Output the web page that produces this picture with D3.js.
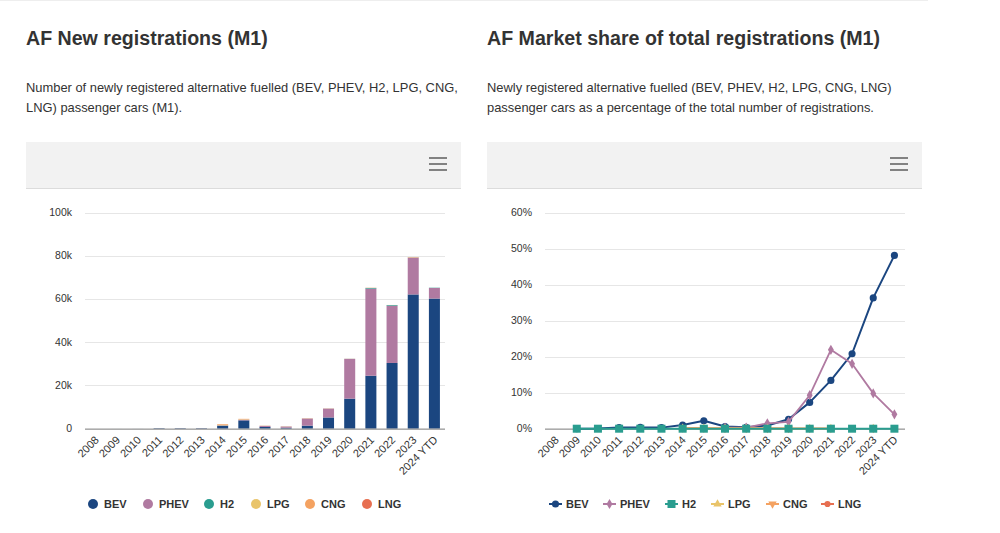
<!DOCTYPE html>
<html>
<head>
<meta charset="utf-8">
<script src="https://cdn.jsdelivr.net/npm/d3@7"></script>
<style>
  html, body { margin: 0; padding: 0; background: #fff; }
  body { width: 1000px; height: 533px; overflow: hidden; font-family: "Liberation Sans", Arial, Helvetica, sans-serif; }
  svg text { font-family: "Liberation Sans", Arial, Helvetica, sans-serif; }
</style>
</head>
<body>
<svg id="chart" width="1000" height="533"></svg>
<script>
// ---- data ----
const categories = ["2008","2009","2010","2011","2012","2013","2014","2015","2016","2017","2018","2019","2020","2021","2022","2023","2024 YTD"];
const seriesNames = ["BEV","PHEV","H2","LPG","CNG","LNG"];
const seriesColors = ["#1b4680","#b07aa1","#2a9d8f","#e9c46a","#f4a261","#e76f51"];

// New registrations (count)
const regBEV  = [0, 10, 20, 250, 250, 250, 1400, 3850, 800, 450, 1400, 5200, 13900, 24500, 30400, 62100, 60200];
const regPHEV = [0, 0, 0, 20, 30, 40, 100, 300, 500, 550, 3300, 4100, 18400, 40300, 26500, 17000, 4900];
const regH2   = [0, 0, 0, 0, 0, 0, 0, 10, 10, 10, 10, 20, 30, 300, 300, 50, 120];
const regLPG  = [0, 0, 0, 0, 0, 0, 150, 150, 60, 40, 30, 20, 10, 10, 10, 10, 0];
const regCNG  = [0, 0, 0, 0, 0, 0, 400, 250, 50, 60, 90, 60, 40, 100, 20, 200, 0];
const regLNG  = [0, 0, 0, 0, 0, 0, 0, 0, 0, 0, 0, 0, 0, 0, 0, 0, 0];

// Market share (%)
const shareBEV  = [null, 0.0, 0.05, 0.3, 0.35, 0.3, 1.0, 2.2, 0.6, 0.4, 0.9, 2.6, 7.3, 13.4, 20.8, 36.3, 48.1];
const sharePHEV = [null, null, null, null, null, null, null, null, 0.3, 0.3, 1.5, 1.9, 9.3, 21.9, 18.0, 9.8, 4.0];
const shareH2   = [null, 0, 0, 0, 0, 0, 0, 0, 0, 0, 0, 0, 0, 0, 0, 0, 0];
const shareLPG  = [null, null, null, null, null, null, 0.1, 0.1, 0.05, 0.05, 0.05, 0.02, 0.02, 0.02, null, 0.02, null];
const shareCNG  = [null, null, null, null, null, null, 0.2, 0.15, 0.1, 0.1, 0.1, 0.05, 0.05, 0.05, null, 0.05, null];
const shareLNG  = [null, null, null, null, null, null, null, null, null, null, null, null, null, null, null, null, null];

const regTicks = [0, 20000, 40000, 60000, 80000, 100000];
const shareTicks = [0, 10, 20, 30, 40, 50, 60];

// ---- layout ----
const svg = d3.select("#chart");
const textCol = "#333333";

function header(x0, w, title, lines) {
  svg.append("text").attr("x", x0).attr("y", 45).attr("font-size", 19.6).attr("font-weight", "bold")
    .attr("fill", "#333").text(title);
  lines.forEach((l, i) => {
    svg.append("text").attr("x", x0).attr("y", 91.5 + i * 20).attr("font-size", 12.9).attr("fill", "#333").text(l);
  });
  svg.append("rect").attr("x", x0).attr("y", 142).attr("width", w).attr("height", 46).attr("fill", "#f2f2f2");
  svg.append("line").attr("x1", x0).attr("x2", x0 + w).attr("y1", 188.5).attr("y2", 188.5).attr("stroke", "#dcdcdc");
  [158, 164, 170].forEach(y => {
    svg.append("line").attr("x1", x0 + w - 32).attr("x2", x0 + w - 14).attr("y1", y).attr("y2", y)
      .attr("stroke", "#666").attr("stroke-width", 1.6);
  });
  svg.append("line").attr("x1", x0 - 26).attr("x2", x0 + w + 6).attr("y1", 0.5).attr("y2", 0.5).attr("stroke", "#eee");
}

header(26, 435, "AF New registrations (M1)",
  ["Number of newly registered alternative fuelled (BEV, PHEV, H2, LPG, CNG,", "LNG) passenger cars (M1)."]);
header(487, 435, "AF Market share of total registrations (M1)",
  ["Newly registered alternative fuelled (BEV, PHEV, H2, LPG, CNG, LNG)", "passenger cars as a percentage of the total number of registrations."]);

const plotTop = 212.5, plotBottom = 428.7;

// ---- left: stacked bars ----
{
  const x = d3.scaleBand().domain(categories).range([85, 445]).paddingInner(0.48).paddingOuter(0.24);
  const y = d3.scaleLinear().domain([0, 100000]).range([plotBottom, plotTop]);
  const g = svg.append("g");
  g.selectAll("line.grid").data(regTicks).join("line")
    .attr("x1", 85).attr("x2", 445).attr("y1", d => Math.round(y(d)) + 0.5).attr("y2", d => Math.round(y(d)) + 0.5)
    .attr("stroke", "#e6e6e6");
  g.selectAll("text.yl").data(regTicks).join("text")
    .attr("x", 72).attr("y", d => y(d) + 3.5).attr("text-anchor", "end").attr("font-size", 10.5).attr("fill", textCol)
    .text(d => d === 0 ? "0" : (d / 1000) + "k");
  const rows = categories.map((c, i) => ({ cat: c, BEV: regBEV[i], PHEV: regPHEV[i], H2: regH2[i], LPG: regLPG[i], CNG: regCNG[i], LNG: regLNG[i] }));
  const stacked = d3.stack().keys(seriesNames)(rows);
  stacked.forEach((s, si) => {
    g.append("g").selectAll("rect").data(s).join("rect")
      .attr("x", d => x(d.data.cat)).attr("width", x.bandwidth())
      .attr("y", d => y(d[1])).attr("height", d => Math.max(0, y(d[0]) - y(d[1])))
      .attr("fill", seriesColors[si]);
  });
  g.append("line").attr("x1", 85).attr("x2", 445).attr("y1", plotBottom + 0.5).attr("y2", plotBottom + 0.5)
    .attr("stroke", "#999").attr("stroke-width", 1.2);
  g.selectAll("text.xl").data(categories).join("text")
    .attr("transform", d => `translate(${x(d) + x.bandwidth() / 2 + 4},${plotBottom + 12}) rotate(-45)`)
    .attr("text-anchor", "end").attr("font-size", 11).attr("fill", textCol).text(d => d);
  const lx = [93, 148, 209, 256, 310, 367];
  seriesNames.forEach((n, i) => {
    svg.append("circle").attr("cx", lx[i]).attr("cy", 504).attr("r", 5).attr("fill", seriesColors[i]);
    svg.append("text").attr("x", lx[i] + 11).attr("y", 508).attr("font-size", 11).attr("font-weight", "bold")
      .attr("fill", textCol).text(n);
  });
}

// ---- right: lines ----
{
  const x = d3.scalePoint().domain(categories).range([545, 905]).padding(0.5);
  const y = d3.scaleLinear().domain([0, 60]).range([plotBottom, plotTop]);
  const g = svg.append("g");
  g.selectAll("line.grid").data(shareTicks).join("line")
    .attr("x1", 545).attr("x2", 905).attr("y1", d => Math.round(y(d)) + 0.5).attr("y2", d => Math.round(y(d)) + 0.5)
    .attr("stroke", "#e6e6e6");
  g.selectAll("text.yl").data(shareTicks).join("text")
    .attr("x", 532).attr("y", d => y(d) + 3.5).attr("text-anchor", "end").attr("font-size", 10.5).attr("fill", textCol)
    .text(d => d + "%");
  g.append("line").attr("x1", 545).attr("x2", 905).attr("y1", plotBottom + 0.5).attr("y2", plotBottom + 0.5)
    .attr("stroke", "#999").attr("stroke-width", 1.2);
  g.selectAll("text.xl").data(categories).join("text")
    .attr("transform", d => `translate(${x(d) + 4},${plotBottom + 12}) rotate(-45)`)
    .attr("text-anchor", "end").attr("font-size", 11).attr("fill", textCol).text(d => d);

  const shares = [shareBEV, sharePHEV, shareH2, shareLPG, shareCNG, shareLNG];
  const symbols = [d3.symbolCircle, d3.symbolDiamond, d3.symbolSquare, d3.symbolTriangle, d3.symbolTriangle, d3.symbolCircle];
  const symSizes = [40, 30, 64, 30, 30, 30];
  const widths = [2, 1.8, 2, 2, 2, 2];
  const line = d3.line().defined(d => d.v !== null).x(d => x(d.c)).y(d => y(d.v));
  const order = [0, 1, 3, 4, 5, 2];
  order.forEach(si => {
    const pts = categories.map((c, i) => ({ c, v: shares[si][i] }));
    g.append("path").datum(pts).attr("d", line).attr("fill", "none")
      .attr("stroke", seriesColors[si]).attr("stroke-width", widths[si]).attr("stroke-linejoin", "round");
    const rot = si === 4 ? 180 : 0;
    g.append("g").selectAll("path").data(pts.filter(d => d.v !== null)).join("path")
      .attr("d", d3.symbol().type(symbols[si]).size(symSizes[si]))
      .attr("transform", d => `translate(${x(d.c)},${y(d.v)}) rotate(${rot})`)
      .attr("fill", seriesColors[si]);
  });

  const lx = [549, 603, 665, 711, 766, 821];
  seriesNames.forEach((n, i) => {
    svg.append("line").attr("x1", lx[i]).attr("x2", lx[i] + 13).attr("y1", 504).attr("y2", 504)
      .attr("stroke", seriesColors[i]).attr("stroke-width", 2);
    svg.append("path").attr("d", d3.symbol().type(symbols[i]).size(symSizes[i])())
      .attr("transform", `translate(${lx[i] + 6.5},504) rotate(${i === 4 ? 180 : 0})`).attr("fill", seriesColors[i]);
    svg.append("text").attr("x", lx[i] + 17).attr("y", 508).attr("font-size", 11).attr("font-weight", "bold")
      .attr("fill", textCol).text(n);
  });
}
</script>
</body>
</html>
